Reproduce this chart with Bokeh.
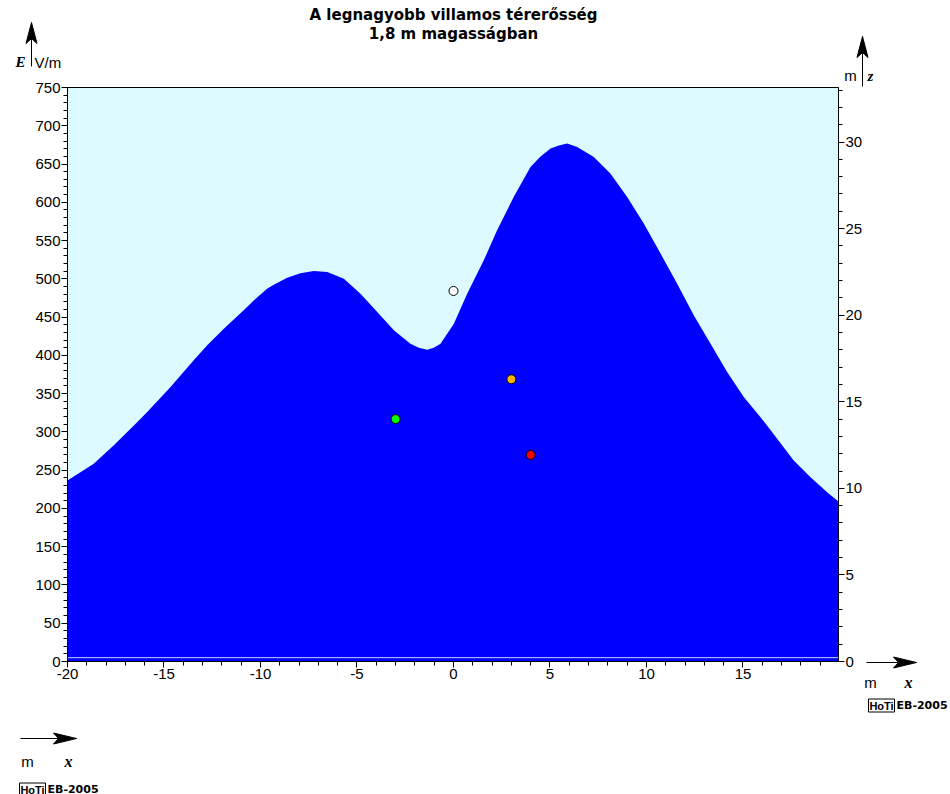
from bokeh.plotting import figure
from bokeh.models import (Range1d, LinearAxis, ColumnDataSource, FixedTicker,
                          PrintfTickFormatter)
from bokeh.core.properties import value
from bokeh.embed import file_html
from bokeh.resources import INLINE

# ---- data ----
x_pos = [-20.0, -18.64, -17.60, -16.56, -15.87, -14.66, -13.46, -12.76, -11.90, -10.87,
         -10.35, -9.66, -9.31, -8.62, -7.93, -7.24, -6.54, -5.68, -4.82, -3.95, -3.09,
         -2.23, -1.80, -1.36, -1.02, -0.67, 0.02, 0.71, 1.57, 2.26, 3.12, 3.99, 4.51,
         5.03, 5.46, 5.89, 6.41, 7.27, 8.13, 9.00, 9.86, 10.73, 11.59, 12.45, 13.32,
         14.18, 15.04, 15.91, 16.77, 17.63, 18.50, 19.36, 19.95]
E_max = [236.6, 258.4, 282.4, 308.5, 325.9, 358.6, 393.5, 413.1, 434.9, 458.8,
         471.7, 487.0, 492.2, 501.4, 507.4, 510.2, 508.9, 500.2, 480.6, 456.6, 432.7,
         415.3, 409.9, 407.4, 409.9, 415.3, 441.4, 480.6, 524.2, 563.4, 606.9, 646.1, 659.9,
         670.2, 674.2, 676.7, 672.3, 659.2, 637.5, 606.9, 572.2, 533.0, 493.7, 452.3, 415.3,
         378.2, 345.5, 319.3, 291.1, 262.7, 240.9, 221.3, 209.0]

cond_x = [0, 3, -3, 4]
cond_z = [21.4, 16.3, 14.0, 11.93]
cond_color = ["white", "#ffb400", "#00ff00", "#ff0000"]

ground_E = 5.0

X_LO, X_HI = -20.0, 19.95
E_LO, E_HI = 0.0, 750.0
Z_HI = 33.15

E_ticks = list(range(0, 751, 50))
E_minor = list(range(0, 751, 10))
x_ticks = list(range(-20, 16, 5))
x_minor = list(range(-20, 20, 1))
z_ticks = list(range(0, 31, 5))
z_minor = list(range(0, 34, 1))

title1 = "A legnagyobb villamos térerősség"
title2 = "1,8 m magasságban"

# ---- layout: plot box in canvas pixels ----
W, H = 950, 794
L, R, T, B = 67, 838, 87, 661
sx = (R - L) / (X_HI - X_LO)
sy = (B - T) / (E_HI - E_LO)
def dx(px):
    return X_LO + (px - L) / sx
def dy(py):
    return E_LO + (B - py) / sy

y0c, y1c = dy(H), dy(0)
p = figure(width=W, height=H, x_range=Range1d(dx(0), dx(W)), y_range=Range1d(y0c, y1c),
           output_backend="svg", toolbar_location=None, x_axis_type=None, y_axis_type=None,
           min_border=0)
p.extra_y_ranges = {"z": Range1d(y0c * Z_HI / E_HI, y1c * Z_HI / E_HI)}
p.outline_line_color = None
p.background_fill_color = "white"
p.border_fill_color = "white"
p.xgrid.visible = False
p.ygrid.visible = False

# plot area background
p.quad(left=[X_LO], right=[X_HI], bottom=[E_LO], top=[E_HI],
       fill_color="#dcfaff", line_color=None)

src = ColumnDataSource(dict(x=x_pos, y=E_max))
p.varea(x="x", y1=E_LO, y2="y", source=src, fill_color="#0000ff")
p.segment(x0=[X_LO], x1=[X_HI], y0=[ground_E], y1=[ground_E], line_color="#c8d4ff", line_width=1)

csrc = ColumnDataSource(dict(x=cond_x, z=cond_z, c=cond_color))
p.scatter(x="x", y="z", y_range_name="z", source=csrc, size=9, fill_color="c",
          line_color="black", line_width=1)

# frame outline
p.quad(left=[X_LO], right=[X_HI], bottom=[E_LO], top=[E_HI],
       fill_color=None, line_color="black", line_width=1)

def style(ax, ticks, minor):
    ax.ticker = FixedTicker(ticks=ticks, minor_ticks=minor)
    ax.formatter = PrintfTickFormatter(format="%d")
    ax.major_label_text_font = "Liberation Sans"
    ax.major_label_text_font_size = "15px"
    ax.major_label_text_color = "black"
    ax.axis_line_color = "black"
    ax.major_tick_line_color = "black"
    ax.minor_tick_line_color = "black"
    ax.major_tick_out = 6
    ax.major_tick_in = 0
    ax.minor_tick_out = 4
    ax.minor_tick_in = 0
    ax.major_label_standoff = 1

yax = LinearAxis(fixed_location=X_LO, bounds=(E_LO, E_HI))
style(yax, E_ticks, E_minor)
p.add_layout(yax, "left")
xax = LinearAxis(fixed_location=E_LO, bounds=(X_LO, X_HI))
style(xax, x_ticks, x_minor)
p.add_layout(xax, "below")
zax = LinearAxis(y_range_name="z", fixed_location=X_HI, bounds=(0, Z_HI))
style(zax, z_ticks, z_minor)
p.add_layout(zax, "right")

# ---- texts ----
def txt(px, py, text, size="14px", font="Liberation Sans", style_="normal", align="left"):
    p.text(x=[dx(px)], y=[dy(py)], text=[text], text_font=value(font),
           text_font_size=value(size), text_font_style=style_, text_align=align,
           text_baseline="middle", text_color="black")

def arrow(x0, y0, x1, y1, length=21, half=5.5, notch=5):
    p.segment(x0=[dx(x0)], y0=[dy(y0)], x1=[dx(x1)], y1=[dy(y1)], line_color="black",
              line_width=1)
    vx, vy = x1 - x0, y1 - y0
    n = (vx * vx + vy * vy) ** 0.5
    ux, uy = vx / n, vy / n
    px_, py_ = -uy, ux
    bx, by = x1 - ux * length, y1 - uy * length
    mx, my = x1 - ux * (length - notch), y1 - uy * (length - notch)
    pts = [(x1, y1), (bx + px_ * half, by + py_ * half), (mx, my),
           (bx - px_ * half, by - py_ * half)]
    p.patch(x=[dx(a) for a, _ in pts], y=[dy(b) for _, b in pts],
            fill_color="black", line_color="black", line_width=1)

def boxed(px, py, w, h):
    p.quad(left=[dx(px)], right=[dx(px + w)], bottom=[dy(py + h / 2)], top=[dy(py - h / 2)],
           fill_color=None, line_color="black", line_width=1)

txt(453, 14, title1, size="15px", font="DejaVu Sans", style_="bold", align="center")
txt(453, 33, title2, size="15px", font="DejaVu Sans", style_="bold", align="center")

# left axis heading
arrow(31, 66, 31, 22)
txt(20, 61, "E", size="15px", font="Liberation Serif", style_="bold italic", align="center")
txt(34, 62, "V/m", size="15px")

# right axis heading
arrow(862, 86, 862, 36)
txt(850, 75, "m", size="15px", align="center")
txt(870, 75, "z", size="15px", font="Liberation Serif", style_="bold italic", align="center")

# bottom-right x heading
arrow(866, 662, 916, 662, length=23)
txt(870, 682, "m", size="15px", align="center")
txt(908, 682, "x", size="16px", font="Liberation Serif", style_="bold italic", align="center")
boxed(868, 705, 26, 13)
txt(881, 705, "HoTi", size="11px", style_="bold", align="center")
txt(896, 705, "EB-2005", size="11px", font="DejaVu Sans", style_="bold")

# bottom-left duplicate
arrow(20, 738, 76, 738, length=23)
txt(27, 761, "m", size="15px", align="center")
txt(68, 761, "x", size="16px", font="Liberation Serif", style_="bold italic", align="center")
boxed(19, 789, 26, 13)
txt(32, 789, "HoTi", size="11px", style_="bold", align="center")
txt(47, 789, "EB-2005", size="11px", font="DejaVu Sans", style_="bold")

open("out.html", "w").write(file_html(p, INLINE))
